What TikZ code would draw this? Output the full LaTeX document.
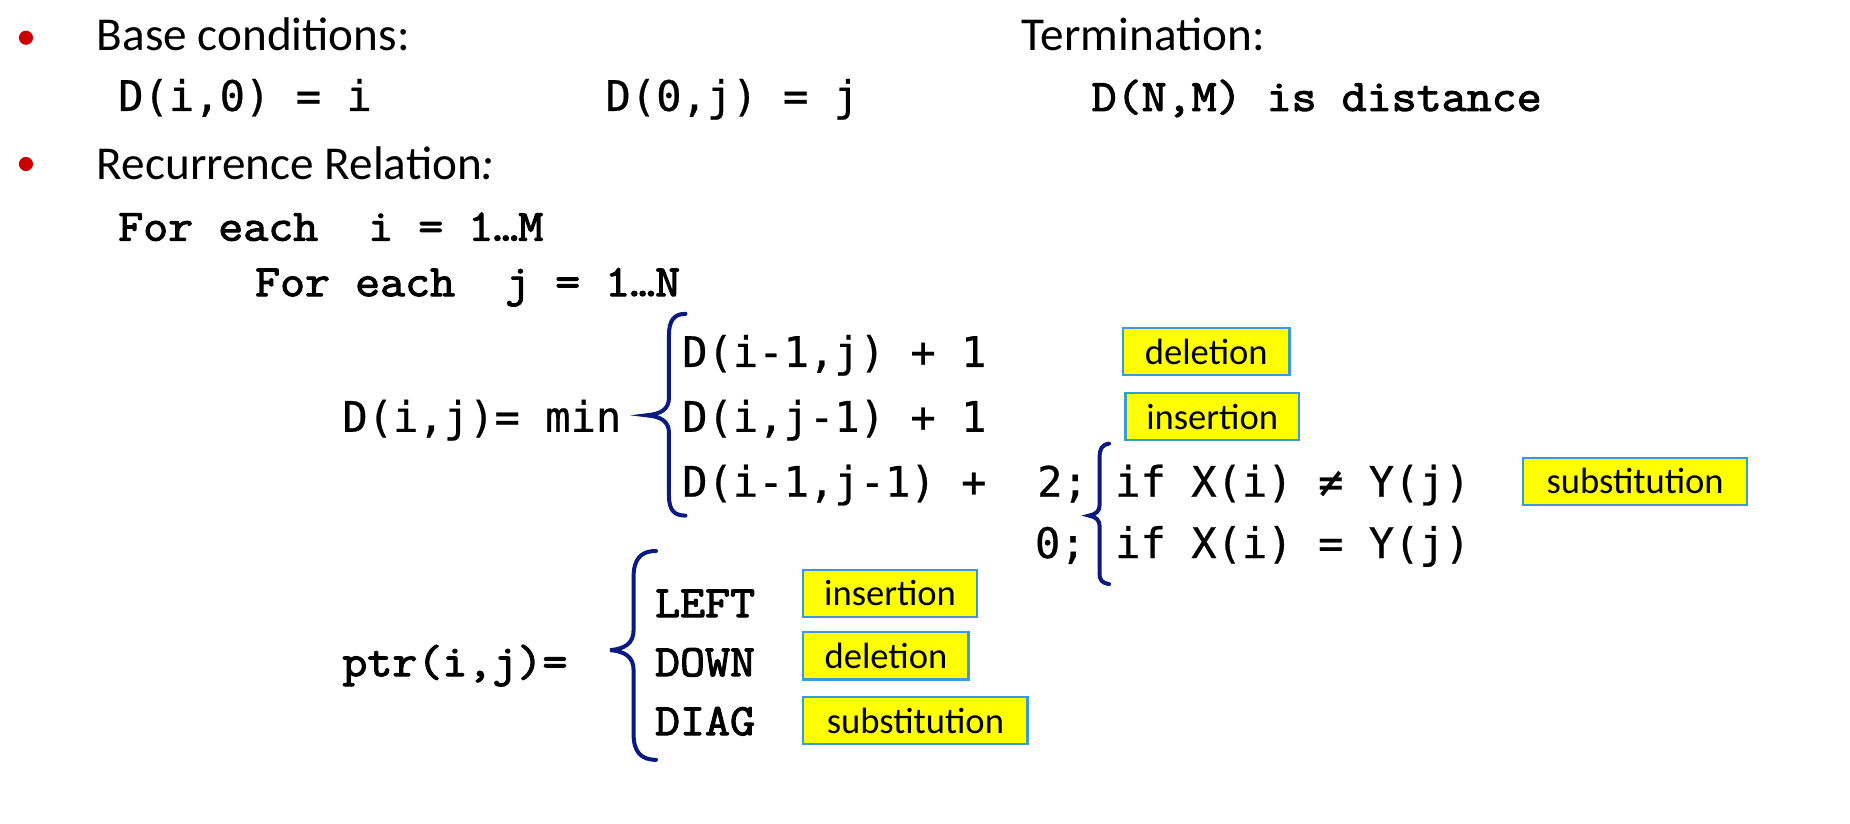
\documentclass[tikz,border=0pt]{standalone}
\usepackage{fontspec}
\setmainfont{Carlito}
\newfontfamily\cour[FakeBold=2.4,FakeStretch=1.083]{Latin Modern Mono}
\newfontfamily\smono[FakeBold=0.6]{DejaVu Sans Mono}
\definecolor{bullred}{HTML}{CC0000}
\definecolor{bracecol}{HTML}{0A1A80}
\definecolor{boxyel}{HTML}{FFFF00}
\definecolor{boxblue}{HTML}{3A9AD9}
\tikzset{
  x=1pt,y=-1pt,
  bodytext/.style={anchor=base west,inner sep=0pt,font=\fontsize{40}{44}\selectfont},
  courtext/.style={anchor=base west,inner sep=0pt,font=\cour\fontsize{38}{42}\selectfont},
  smtext/.style={anchor=base west,inner sep=0pt,font=\smono\fontsize{35.7}{40}\selectfont},
  lblbox/.style={draw=boxblue,fill=boxyel,line width=1.8pt,inner sep=0pt,anchor=north west,
     minimum height=40,font=\fontsize{31}{34}\selectfont,text depth=0pt},
  bracepath/.style={draw=bracecol,line width=3.4pt,line cap=round},
  bulletdot/.style={circle,fill=bullred,inner sep=0pt,minimum size=12}
}
\begin{document}
\begin{tikzpicture}
\useasboundingbox (0,0) rectangle (1568,698);
% bullets
\node[bulletdot] (b1) at (22,32) {};
\node[bulletdot] (b2) at (22,139) {};
\node[bodytext] (base) at (82,43) {Base conditions:};
\node[bodytext] (term) at (866,43) {Termination:};
\node[smtext] (d10) at (100,94) {D(i,0) = i};
\node[smtext] (d0j) at (513,94) {D(0,j) = j};
\node[courtext] (dnm) at (925,94) {D(N,M) is distance};
\node[bodytext] (rec) at (82,152) {Recurrence Relation\textit{:}};
\node[courtext] (fi) at (100,204) {For each\ \ i = 1…M};
\node[courtext] (fj) at (216,251) {For each\ \ j = 1…N};
% D(i,j)
\node[smtext] (dij) at (290,366) {D(i,j)= min};
\node[smtext] (r1) at (578,311) {D(i-1,j) + 1};
\node[smtext] (r2) at (578,366) {D(i,j-1) + 1};
\node[smtext] (r3) at (578,421) {D(i-1,j-1) +\ \ 2;};
\node[smtext] (r4) at (877,473) {0;};
\node[smtext] (c1) at (945,421) {if X(i) ≠ Y(j)};
\node[smtext] (c2) at (945,473) {if X(i) = Y(j)};
% big brace
\draw[bracepath] (581,266) .. controls (571,266) and (567,272) .. (567,284)
  -- (567,337) .. controls (567,347) and (560,351) .. (548,352)
  .. controls (560,353) and (567,357) .. (567,367)
  -- (567,420) .. controls (567,432) and (571,437) .. (581,437);
% small brace
\draw[bracepath] (940,376) .. controls (934,377) and (932,380) .. (932,388)
  -- (932,428) .. controls (932,433) and (929,436) .. (923,437)
  .. controls (929,438) and (932,441) .. (932,446)
  -- (932,486) .. controls (932,492) and (934,494) .. (940,495);
% ptr
\node[courtext] (ptr) at (290,573) {ptr(i,j)=};
\node[courtext] (left) at (555,523) {LEFT};
\node[courtext] (down) at (555,573) {DOWN};
\node[courtext] (diag) at (555,623) {DIAG};
\draw[bracepath] (556,467) .. controls (543,467) and (537,474) .. (537,489)
  -- (537,534) .. controls (537,545) and (530,550) .. (517,551)
  .. controls (530,552) and (537,557) .. (537,568)
  -- (537,622) .. controls (537,637) and (543,644) .. (556,644);
% labels
\node[lblbox,minimum width=141] (l1) at (951,277) {deletion};
\node[lblbox,minimum width=147] (l2) at (953,332) {insertion};
\node[lblbox,minimum width=190] (l3) at (1290,387) {substitution};
\node[lblbox,minimum width=147] (l4) at (680,482) {insertion};
\node[lblbox,minimum width=140] (l5) at (680,535) {deletion};
\node[lblbox,minimum width=190] (l6) at (680,590) {substitution};
\end{tikzpicture}
\end{document}
